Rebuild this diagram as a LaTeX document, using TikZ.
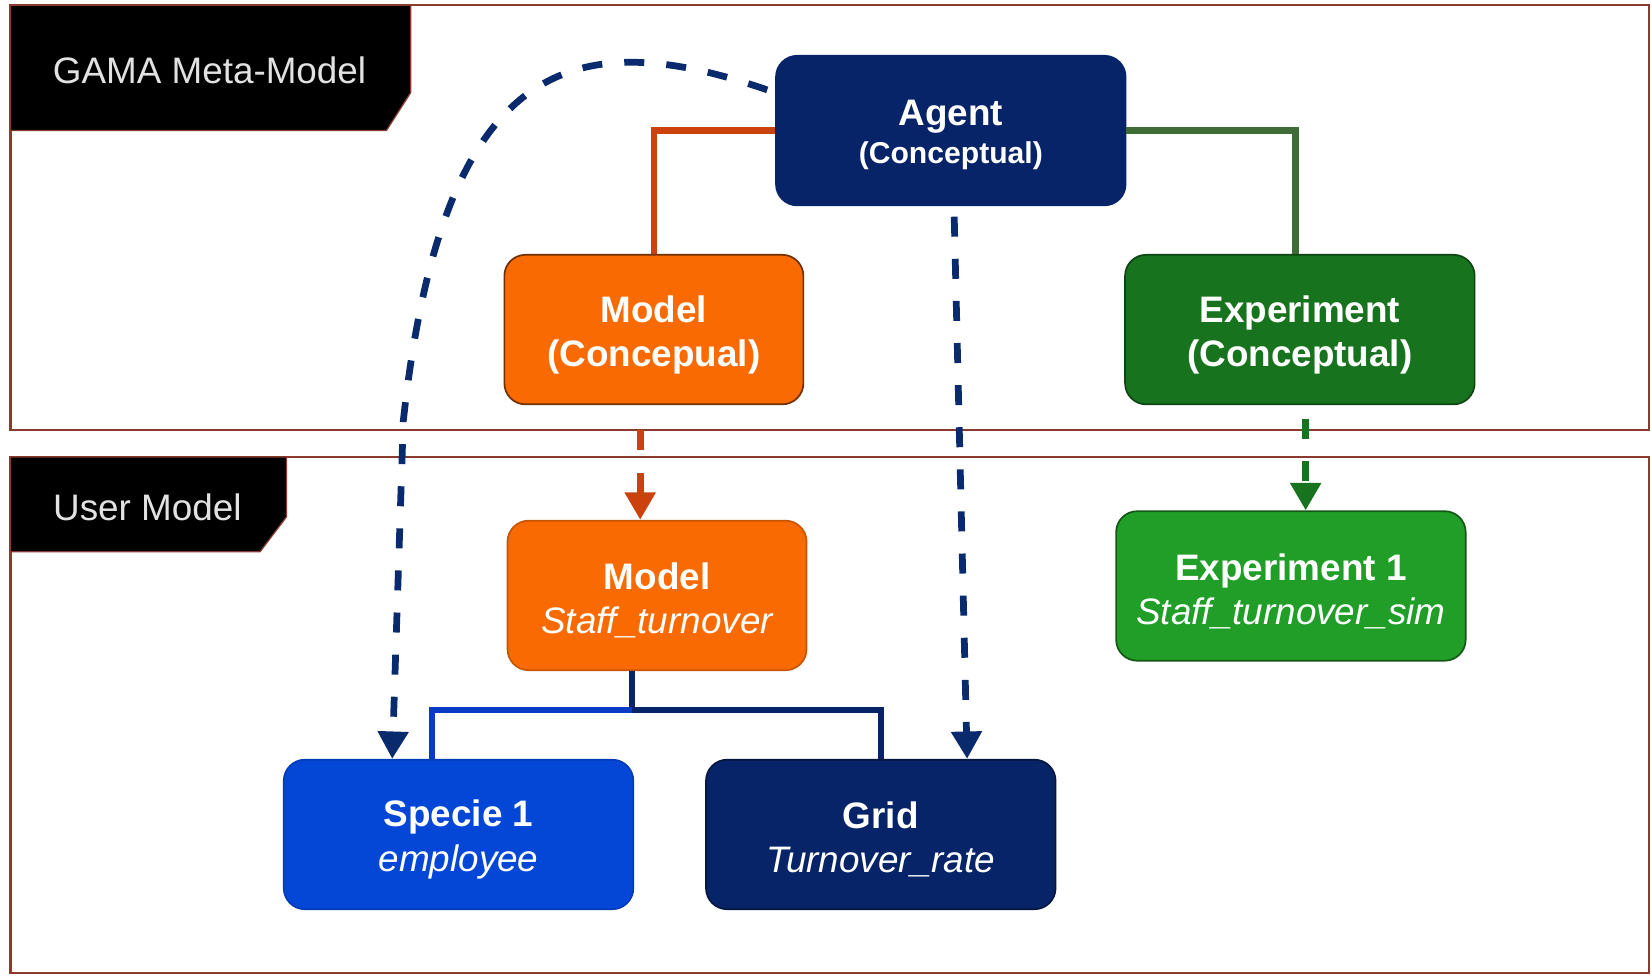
\documentclass[tikz,border=0pt]{standalone}
\usepackage{fontspec}
\setmainfont{Liberation Sans}
\usetikzlibrary{calc,positioning,arrows.meta}

\definecolor{navy}{HTML}{082469}
\definecolor{morange}{HTML}{F96A02}
\definecolor{dgreen}{HTML}{18731F}
\definecolor{lgreen}{HTML}{209E28}
\definecolor{sblue}{HTML}{0447D6}
\definecolor{frame}{HTML}{8B3A2E}
\definecolor{oline}{HTML}{CB420D}
\definecolor{gline}{HTML}{3E6B38}
\definecolor{bline}{HTML}{0A3BC4}
\definecolor{dline}{HTML}{0A2A6E}
\definecolor{tabtext}{HTML}{E2E2E2}

\newcommand{\boxstrut}{\rule{0pt}{17.5pt}}

\begin{document}
\begin{tikzpicture}[x=0.5pt,y=-0.5pt,
  box/.style={rounded corners=10pt,minimum width=166pt,minimum height=71pt,inner sep=0pt,
    align=center,text=white,font=\fontsize{17.5pt}{21pt}\selectfont\bfseries,line width=0.8pt},
  narrow/.style={minimum width=142pt},
  link/.style={line width=3pt},
  dep/.style={line width=3.2pt,dash pattern=on 9.5pt off 10.5pt,-{Triangle[width=14pt,length=13pt]}},
  tab/.style={fill=black,draw=frame,line width=0.6pt},
  tablabel/.style={text=tabtext,font=\fontsize{17.5pt}{21pt}\selectfont}]

\clip (0,0) rectangle (1568,926);
\fill[white] (0,0) rectangle (1568,926);

% the two layers
\draw[frame,line width=1pt] (10,5) rectangle (1566,408);
\draw[frame,line width=1pt] (10,434) rectangle (1566,924);
\draw[tab] (10,5) -- (390,5) -- (390,88) -- (367,124) -- (10,124) -- cycle;
\draw[tab] (10,434) -- (272,434) -- (272,491) -- (247,524) -- (10,524) -- cycle;
\node (metalabel) at (199,67) [tablabel] {GAMA Meta-Model};
\node (userlabel) at (140,482) [tablabel] {User Model};

% meta-model
\node (agent) at (903,124) [box,fill=navy,draw=navy]
  {\rule{0pt}{16pt}Agent\\[-3pt]{\fontsize{14.3pt}{17pt}\selectfont(Conceptual)}};
\node (modelc) at (621,313) [box,narrow,fill=morange,draw=morange!45!black] {\boxstrut Model\\(Concepual)};
\node (expc) at (1234.5,313) [box,fill=dgreen,draw=dgreen!60!black] {\boxstrut Experiment\\(Conceptual)};

% user model
\node (modelu) at (624,565.5) [box,narrow,fill=morange,draw=morange!80!black]
  {\boxstrut Model\\{\mdseries\itshape Staff\_turnover}};
\node (expu) at (1226,556.5) [box,fill=lgreen,draw=lgreen!55!black]
  {\boxstrut Experiment 1\\{\mdseries\itshape Staff\_turnover\_sim}};
\node (specie) at (435.5,792.5) [box,fill=sblue,draw=sblue!85!black]
  {\boxstrut Specie 1\\{\mdseries\itshape employee}};
\node (grid) at (836.5,792.5) [box,fill=navy,draw=navy!60!black]
  {\boxstrut Grid\\{\mdseries\itshape Turnover\_rate}};

% inheritance
\draw[link,oline] (agent.west) -| (modelc.north);
\draw[link,gline] (agent.east) -| ([xshift=-2pt]expc.north);
\coordinate (fork) at (600,674);
\draw[link,navy] (modelu.south -| fork) -- (fork) -| (grid.north);
\draw[link,bline] (fork) -| ([xshift=-12.5pt]specie.north);

% instantiation
\draw[dep,oline,shorten <=12pt] ([xshift=-6.5pt]modelc.south) -- ([xshift=-8pt]modelu.north);
\draw[dep,dgreen,shorten <=6.5pt] ([xshift=2.75pt]expc.south) -- ([xshift=7pt]expu.north);
\draw[dep,dline,shorten <=5pt] ([xshift=1.5pt]agent.south) -- ([xshift=41pt]grid.north);
\draw[dep,dline,shorten <=4pt] ([yshift=18pt]agent.west) .. controls (540,20) and (420,60) .. (383,400)
  -- ([xshift=-31.5pt]specie.north);

\end{tikzpicture}
\end{document}
